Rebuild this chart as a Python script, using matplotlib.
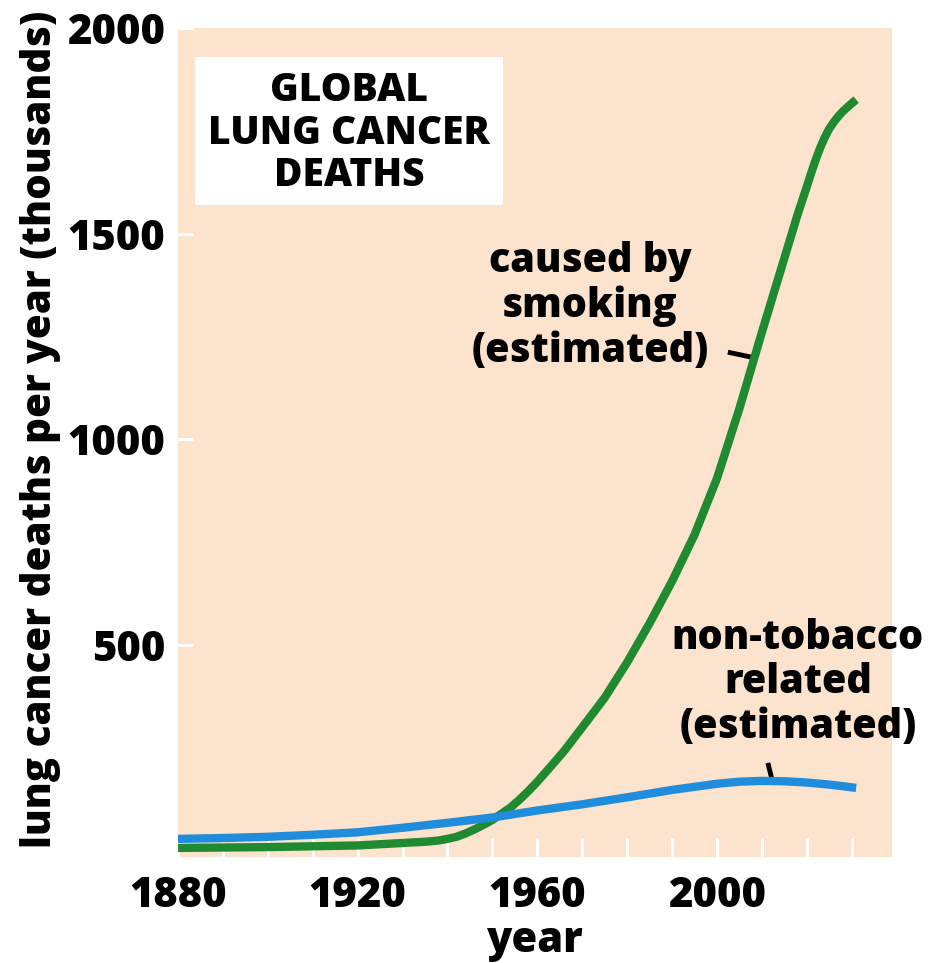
import matplotlib
matplotlib.use("Agg")
from matplotlib import pyplot as plt
from matplotlib.patches import Rectangle
from matplotlib.ticker import MultipleLocator

# estimated lung cancer deaths per year (thousands)
smoking_years = [1880, 1890, 1900, 1910, 1920, 1925, 1930, 1935, 1938, 1940,
                 1942, 1944, 1946, 1948, 1950, 1952, 1954, 1956, 1958, 1960,
                 1963, 1966, 1970, 1975, 1980, 1985, 1990, 1995, 2000, 2005,
                 2010, 2015, 2018, 2020, 2021, 2022, 2023, 2024, 2025, 2026,
                 2027, 2028, 2029.5, 2031]
smoking_deaths = [7, 8, 9, 11, 13, 16, 19, 22, 25, 29,
                  34, 42, 52, 63, 75, 90, 105, 124, 145, 168,
                  205, 243, 300, 372, 458, 553, 655, 768, 905, 1075,
                  1260, 1440, 1548, 1614, 1648, 1680, 1709, 1734, 1755, 1771,
                  1785, 1797, 1812, 1826]

other_years = [1880, 1890, 1900, 1910, 1920, 1930, 1940, 1950, 1960, 1970,
               1980, 1990, 2000, 2005, 2010, 2015, 2020, 2025, 2031]
other_deaths = [29, 31, 34, 39, 45, 56, 68, 81, 98, 113,
                130, 148, 163, 168, 170, 169, 166, 161, 153]

x_ticks = [1880, 1920, 1960, 2000]
y_ticks = [500, 1000, 1500, 2000]

plt.rcParams['font.family'] = ['Open Sans', 'DejaVu Sans']
plt.rcParams['font.weight'] = 800
W = 800

fig = plt.figure(figsize=(9.46, 9.63), dpi=100)
ax = fig.add_axes([0.1882, 0.1101, 0.7548, 0.8608])
ax.set_facecolor('#fbe3cd')
for s in ax.spines.values():
    s.set_visible(False)

ax.plot(smoking_years, smoking_deaths, color='#1f8a2f', lw=6,
        solid_capstyle='butt', solid_joinstyle='round', zorder=3)
ax.plot(other_years, other_deaths, color='#1f8ddb', lw=6,
        solid_capstyle='butt', solid_joinstyle='round', zorder=4)

ax.set_xlim(1880, 2039)
ax.set_ylim(-15, 2000)
ax.set_xticks(x_ticks)
ax.xaxis.set_minor_locator(MultipleLocator(10))
ax.set_yticks(y_ticks)
ax.tick_params(axis='x', which='both', direction='in', length=14, width=2.2,
               color='white', labelsize=30, pad=13)
ax.tick_params(axis='y', which='both', direction='in', length=11, width=2.2,
               color='white', labelsize=30, pad=9)
for lab in ax.get_xticklabels() + ax.get_yticklabels():
    lab.set_fontweight(W)

ax.set_xlabel('year', fontsize=30, fontweight=W, va='center')
ax.xaxis.set_label_coords(0.5, -0.101)
ax.set_ylabel('lung cancer deaths per year (thousands)', fontsize=29,
              fontweight=W, va='center')
ax.yaxis.set_label_coords(-0.193, 0.516)

# title box
ax.add_patch(Rectangle((0.0238, 0.7865), 0.431, 0.1785, transform=ax.transAxes,
                       facecolor='white', edgecolor='none', zorder=5))
ax.text(0.2395, 0.8733, 'GLOBAL\nLUNG CANCER\nDEATHS', transform=ax.transAxes,
        ha='center', va='center', fontsize=28, fontweight=W,
        linespacing=1.12, zorder=6)

ax.text(0.577, 0.664, 'caused by\nsmoking\n(estimated)', transform=ax.transAxes,
        ha='center', va='center', fontsize=28.5, fontweight=W, linespacing=1.12)
ax.plot([0.770, 0.808], [0.609, 0.602], transform=ax.transAxes,
        color='black', lw=3.5, solid_capstyle='butt')

ax.text(0.868, 0.21, 'non-tobacco\nrelated\n(estimated)', transform=ax.transAxes,
        ha='center', va='center', fontsize=28.5, fontweight=W, linespacing=1.12)
ax.plot([0.826, 0.832], [0.1134, 0.0929], transform=ax.transAxes,
        color='black', lw=3.5, solid_capstyle='butt')

fig.savefig('out.png', dpi=100)
